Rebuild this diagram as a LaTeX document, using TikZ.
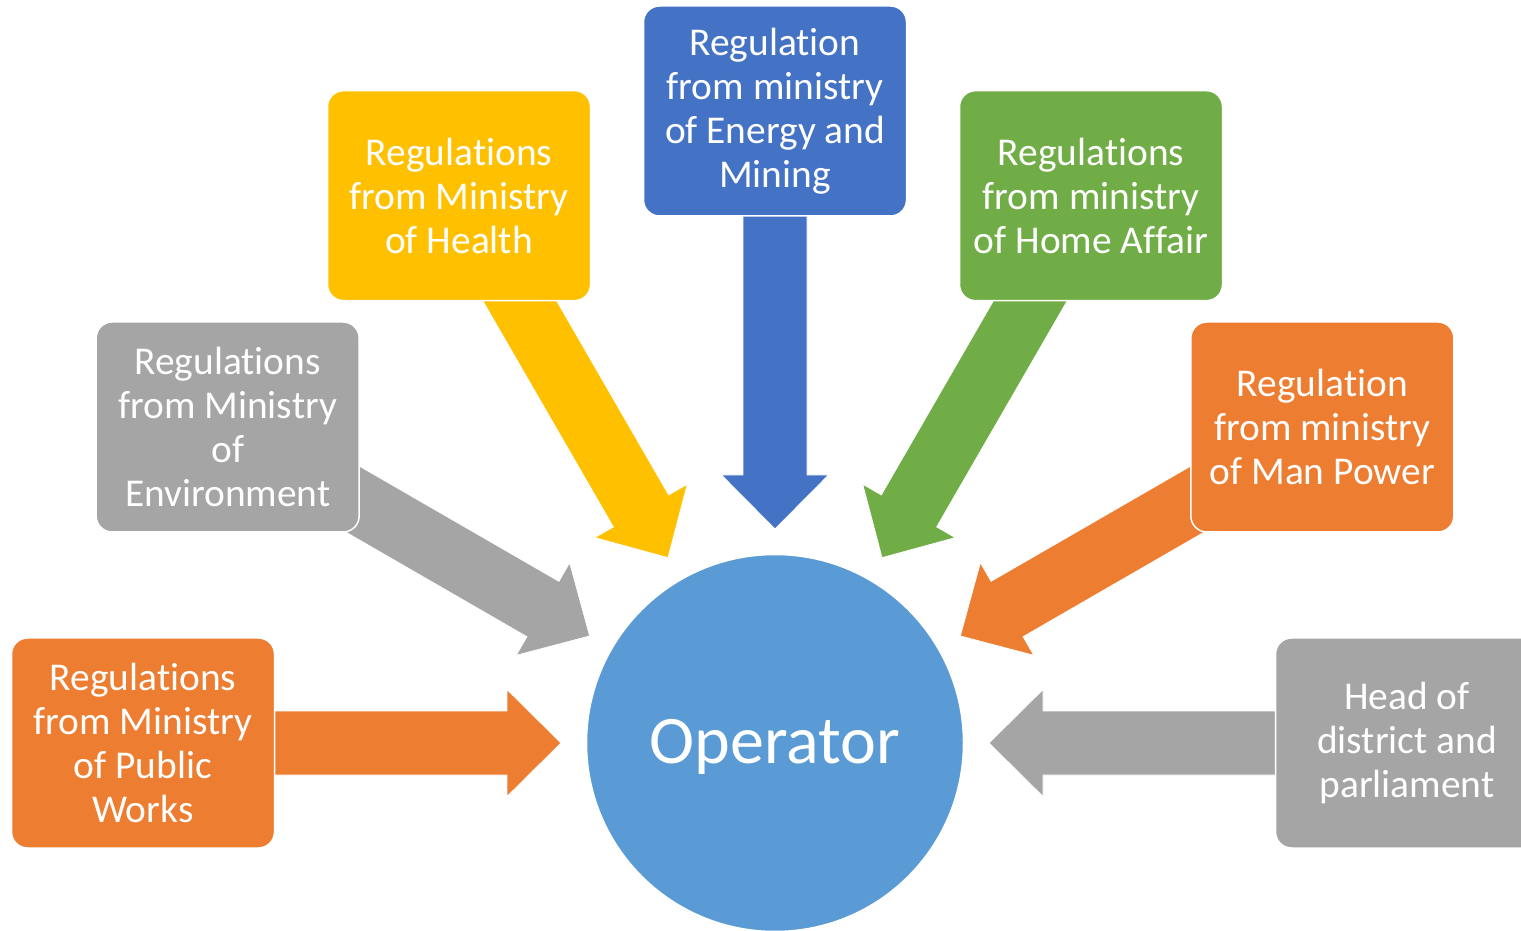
\documentclass[tikz,border=0pt]{standalone}
\usepackage{fontspec}
\setmainfont{Carlito}[Ligatures={NoCommon,NoRare,NoContextual}]
\usetikzlibrary{calc}
\definecolor{corange}{HTML}{ED7D31}
\definecolor{cgray}{HTML}{A5A5A5}
\definecolor{cyellow}{HTML}{FFC000}
\definecolor{cblue}{HTML}{4472C4}
\definecolor{cgreen}{HTML}{70AD47}
\definecolor{ccirc}{HTML}{5B9BD5}
\tikzset{
  box/.style={rectangle, rounded corners=16pt, draw=white, line width=1.5pt,
    minimum width=263pt, minimum height=210pt, inner sep=0pt, text=white,
    align=center, font=\fontsize{39.4}{44}\selectfont},
  blockarrow/.style={draw=white, line width=0.8pt},
  hub/.style={circle, fill=ccirc, draw=white, line width=1.5pt, minimum size=377pt,
    inner sep=0pt, text=white, font=\fontsize{68}{80}\selectfont}
}
\newcommand{\blockarrowat}[2]{%
  \begin{scope}[shift={(775,187)}, rotate=#1]
    \fill[#2, blockarrow] (214,0) -- (268,53.5) -- (268,32) -- (540,32) -- (540,-32)
      -- (268,-32) -- (268,-53.5) -- cycle;
  \end{scope}}
\begin{document}
\begin{tikzpicture}[x=1pt,y=1pt]
\useasboundingbox (0,0) rectangle (1521,930);
\coordinate (c) at (775,187);
% arrows (behind boxes)
\blockarrowat{180}{corange}
\blockarrowat{150}{cgray}
\blockarrowat{120}{cyellow}
\blockarrowat{90}{cblue}
\blockarrowat{60}{cgreen}
\blockarrowat{30}{corange}
\blockarrowat{0}{cgray}
% boxes
\node[box, fill=corange] (pw) at ($(c)+(180:632)$) {Regulat\kern0pt ions\\from Ministry\\of Public\\Works};
\node[box, fill=cgray] (env) at ($(c)+(150:632)$) {Regulat\kern0pt ions\\from Ministry\\of\\Environment};
\node[box, fill=cyellow] (health) at ($(c)+(120:632)$) {Regulat\kern0pt ions\\from Ministry\\of Health};
\node[box, fill=cblue] (energy) at ($(c)+(90:632)$) {Regulat\kern0pt ion\\from ministry\\of Energy and\\Mining};
\node[box, fill=cgreen] (home) at ($(c)+(60:632)$) {Regulat\kern0pt ions\\from ministry\\of Home Affair};
\node[box, fill=corange] (man) at ($(c)+(30:632)$) {Regulat\kern0pt ion\\from ministry\\of Man Power};
\node[box, fill=cgray] (head) at ($(c)+(0:632)$) {Head of\\district and\\parliament};
% hub
\node[hub] (op) at (c) {};
\node[text=white, font=\fontsize{68}{80}\selectfont, inner sep=0pt] (optext) at ($(c)+(0,-4)$) {Operator};
\end{tikzpicture}
\end{document}
